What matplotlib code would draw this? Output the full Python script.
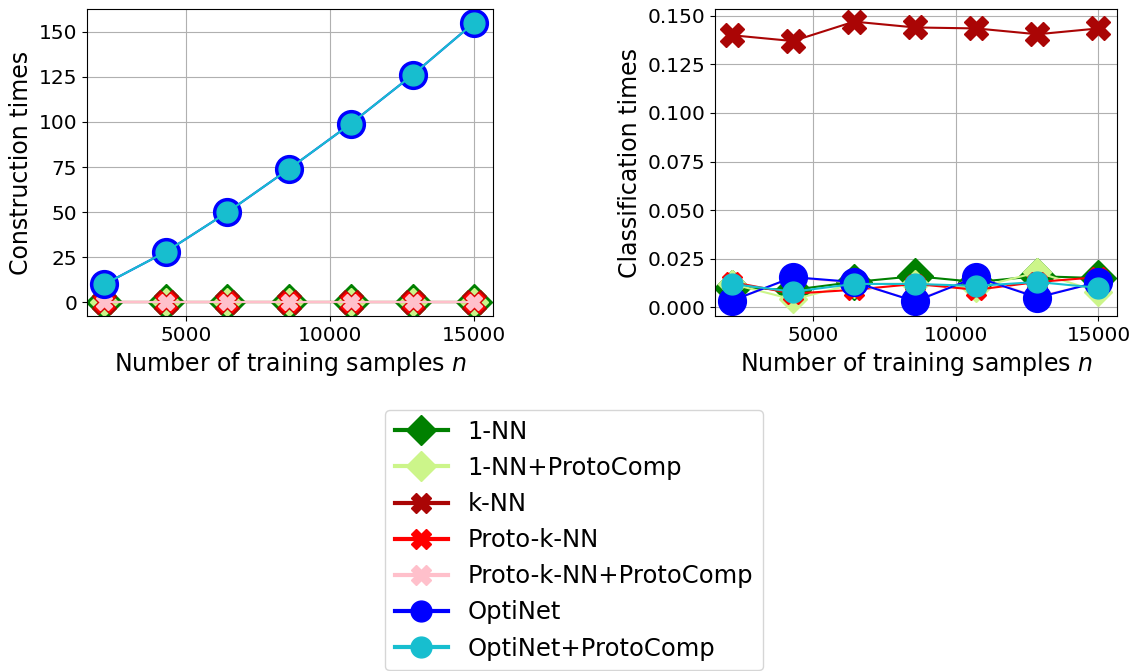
import matplotlib
matplotlib.use("Agg")
import matplotlib.pyplot as plt
from matplotlib.lines import Line2D

n_samples = [2143, 4286, 6429, 8571, 10714, 12857, 15000]
methods = ["1-NN", "1-NN+ProtoComp", "k-NN", "Proto-k-NN", "Proto-k-NN+ProtoComp",
           "OptiNet", "OptiNet+ProtoComp"]

constr_1nn = [0.3, 0.3, 0.3, 0.3, 0.3, 0.3, 0.3]
constr_1nn_pc = [0.4, 0.4, 0.4, 0.4, 0.4, 0.4, 0.4]
constr_knn = [0.2, 0.2, 0.2, 0.2, 0.2, 0.2, 0.2]
constr_pknn = [0.3, 0.3, 0.3, 0.3, 0.3, 0.3, 0.3]
constr_pknn_pc = [0.3, 0.3, 0.3, 0.3, 0.3, 0.3, 0.3]
constr_optinet = [10, 28, 50, 74, 99, 126, 155]
constr_optinet_pc = [10, 28, 50, 74, 99, 126, 155]

class_1nn = [0.010, 0.009, 0.013, 0.016, 0.013, 0.016, 0.015]
class_1nn_pc = [0.012, 0.004, 0.012, 0.012, 0.010, 0.018, 0.008]
class_knn = [0.140, 0.137, 0.147, 0.144, 0.1435, 0.1405, 0.1435]
class_pknn = [0.013, 0.007, 0.009, 0.012, 0.009, 0.013, 0.0155]
class_pknn_pc = [0.0034, 0.0153, 0.0126, 0.0034, 0.0155, 0.0055, 0.0128]
class_optinet = [0.0034, 0.0155, 0.013, 0.003, 0.0155, 0.005, 0.013]
class_optinet_pc = [0.012, 0.008, 0.012, 0.012, 0.011, 0.013, 0.010]

colors = ["green", "#ccf58a", "#aa0505", "red", "pink", "blue", "#17becf"]
markers = ["D", "D", "X", "X", "X", "o", "o"]
msizes = [18, 14, 17, 15, 12, 20, 15]

constr = [constr_1nn, constr_1nn_pc, constr_knn, constr_pknn, constr_pknn_pc,
          constr_optinet, constr_optinet_pc]
classif = [class_1nn, class_1nn_pc, class_knn, class_pknn, class_pknn_pc,
           class_optinet, class_optinet_pc]

fig = plt.figure(figsize=(11.45, 6.71), dpi=100)
ax1 = fig.add_axes([87/1145, 1-316/671, (493-87)/1145, (316-9)/671])
ax2 = fig.add_axes([715/1145, 1-316/671, (1117-715)/1145, (316-9)/671])

for ax, data in ((ax1, constr), (ax2, classif)):
    for i in range(len(methods)):
        ax.plot(n_samples, data[i], color=colors[i], marker=markers[i],
                markersize=msizes[i], linewidth=1.5, label=methods[i])
    ax.grid(True, color="#b0b0b0", linewidth=0.8)
    ax.tick_params(labelsize=14.5)
    ax.set_xlabel("Number of training samples $n$", fontsize=17)
    ax.set_xlim(1550, 15650)

ax1.set_ylabel("Construction times", fontsize=17)
ax1.set_ylim(-7.5, 162.5)
ax1.set_yticks([0, 25, 50, 75, 100, 125, 150])
ax1.set_xticks([5000, 10000, 15000])
ax2.set_ylabel("Classification times", fontsize=17)
ax2.set_ylim(-0.0045, 0.1535)
ax2.set_yticks([0, 0.025, 0.05, 0.075, 0.1, 0.125, 0.15])
ax2.set_yticklabels(["0.000", "0.025", "0.050", "0.075", "0.100", "0.125", "0.150"])
ax2.set_xticks([5000, 10000, 15000])

handles = [Line2D([], [], color=colors[i], marker=markers[i], markersize=15,
                  linewidth=3) for i in range(len(methods))]
fig.legend(handles, methods, loc="upper center", bbox_to_anchor=(574/1145, 1-410/671),
           borderaxespad=0, fontsize=17.5, frameon=True, handlelength=2.2,
           labelspacing=0.5)

fig.savefig("out.png", dpi=100)
